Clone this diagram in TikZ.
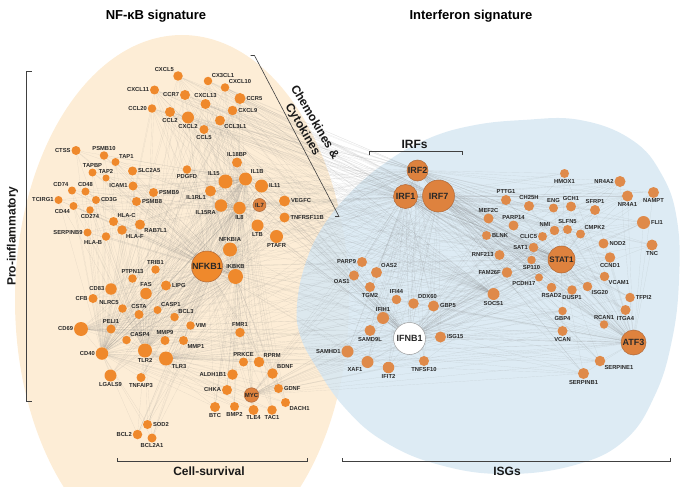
\documentclass[tikz,border=0pt]{standalone}
\usepackage{fontspec}
\setmainfont{Liberation Sans}
\usepackage{xcolor}
\usepackage{tikz}
\pgfdeclarelayer{fondo}
\pgfdeclarelayer{red}
\pgfsetlayers{fondo,red,main}

\definecolor{naranja}{RGB}{239,137,44}
\definecolor{naranjab}{RGB}{223,138,74}
\definecolor{nucleo}{RGB}{222,130,62}
\definecolor{borde}{RGB}{176,104,56}
\definecolor{durazno}{RGB}{253,237,214}
\definecolor{celeste}{RGB}{216,232,242}
\definecolor{texto}{RGB}{40,40,40}

% listas de genes
\newcommand\genesizq{CXCL5,CX3CL1,CXCL10,CXCL11,CCR7,CXCL13,CCR5,CCL20,CCL2,CXCL2,CXCL9,CCL3L1,CCL5,CTSS,PSMB10,TAP1,TAPBP,TAP2,SLC2A5,PDGFD,IL18BP,IL15,IL1B,IL11,CD74,CD48,ICAM1,TCIRG1,CD44,CD3G,CD274,HLA-C,HLA-F,SERPINB9,HLA-B,PSMB9,PSMB8,RAB7L1,IL1RL1,IL15RA,IL8,IL7,VEGFC,TNFRSF11B,LTB,PTAFR,NFKBIA,IKBKB,TRIB1,PTPN13,FAS,LIPG,CD83,CFB,NLRC5,CSTA,CASP1,BCL3,PELI1,CD69,VIM,FMR1,CASP4,MMP9,MMP1,CD40,TLR2,TLR3,LGALS9,TNFAIP3,PRKCE,RPRM,BDNF,ALDH1B1,CHKA,MYC,GDNF,DACH1,BTC,BMP2,TLE4,TAC1,SOD2,BCL2,BCL2A1}
\newcommand\genesder{IRF2,IRF1,IRF7,PARP9,OAS2,OAS1,TGM2,IFI44,DDX60,GBP5,IFIH1,SAMD9L,IFNB1,ISG15,SAMHD1,XAF1,IFIT2,TNFSF10,PTTG1,MEF2C,PARP14,BLNK,RNF213,FAM26F,PCDH17,SP110,SAT1,CLIC5,NMI,SLFN5,ENG,GCH1,CH25H,HMOX1,STAT1,CMPK2,SFRP1,NR4A2,NR4A1,NAMPT,FLI1,NOD2,TNC,CCND1,VCAM1,ISG20,DUSP1,RSAD2,SOCS1,TFPI2,GBP4,ITGA4,RCAN1,VCAN,ATF3,SERPINE1,SERPINB1}
\newcommand\genesquim{CXCL5,CX3CL1,CXCL10,CXCL11,CCR7,CXCL13,CCR5,CCL20,CCL2,CXCL2,CXCL9,CCL3L1,CCL5,IL18BP,IL15,IL1B,IL11,IL7,VEGFC,TNFRSF11B,IL8,IL15RA,IL1RL1,PDGFD,LTB,PTAFR,NFKBIA}

\begin{document}
\begin{tikzpicture}[x=1pt, y=-1pt,
  g/.style={circle, fill=naranja, inner sep=0pt, minimum size=#1pt},
  gb/.style={circle, fill=naranjab, inner sep=0pt, minimum size=#1pt},
  hub/.style={circle, fill=nucleo, draw=borde, line width=0.5pt, inner sep=0pt,
    minimum size=#1pt, text=texto, font=\bfseries\fontsize{9}{9}\selectfont},
  lbl/.style={font=\bfseries\fontsize{5.8}{6}\selectfont, text=texto, inner sep=0.3pt},
  every label/.style={lbl}, label distance=0.3pt,
  link/.style={black!50, line width=0.15pt, opacity=0.22},
  corchete/.style={black!75, line width=0.6pt},
  seccion/.style={font=\bfseries\fontsize{12}{14}\selectfont, text=black!90}]
  \useasboundingbox (0,0) rectangle (683,487);

  % Elipses de fondo
  \begin{pgfonlayer}{fondo}
    \clip (0,0) rectangle (683,487);
    \fill[durazno] (182,300) ellipse [x radius=167, y radius=265];
    \fill[celeste, opacity=0.88] plot[smooth cycle, tension=0.7] coordinates {
      (297,305) (305,265) (322,228) (350,193) (385,163) (425,140) (470,126)
      (523,120) (580,120) (632,140) (662,175) (677,220) (679,280) (672,340)
      (655,395) (625,440) (575,465) (505,474) (440,465) (385,442) (345,408)
      (315,365) (300,335)};
  \end{pgfonlayer}

  % Titulos
  \node[font=\bfseries\fontsize{13}{13}\selectfont] (tnfkb) at (156,16) {NF-κB signature};
  \node[font=\bfseries\fontsize{13}{13}\selectfont] (tifn) at (471,16) {Interferon signature};

  % Corchetes
  \draw[corchete] (31.5,71) -- (26.5,71) -- (26.5,401.5) -- (31.5,401.5);
  \node[seccion, rotate=90] (proinf) at (12.5,236) {Pro-inflammatory};
  \draw[corchete] (250.5,55.5) -- (254.5,55.5) -- (339,216.5) -- (335,216.5);
  \node[seccion, rotate=-59.5, align=center] (quim) at (308.5,126) {Chemokines \&\\Cytokines};
  \draw[corchete] (369.5,155) -- (369.5,151.5) -- (462.5,151.5) -- (462.5,155);
  \node[seccion] (irfs) at (414.5,144) {IRFs};
  \draw[corchete] (117.5,458) -- (117.5,461.5) -- (307.5,461.5) -- (307.5,458);
  \node[seccion] (supv) at (209,471) {Cell-survival};
  \draw[corchete] (342.5,458) -- (342.5,461.5) -- (670,461.5) -- (670,458);
  \node[seccion] (isgs) at (507,471) {ISGs};

  % Firma NF-kB
  \node[g=9.5, label=above left:CXCL5] (CXCL5) at (178,76) {};
  \node[g=8.5, label=above right:CX3CL1] (CX3CL1) at (208,81) {};
  \node[g=8.5, label=above right:CXCL10] (CXCL10) at (225,87.5) {};
  \node[g=9, label=left:CXCL11] (CXCL11) at (154.5,90) {};
  \node[g=10, label=left:CCR7] (CCR7) at (185,95) {};
  \node[g=10, label=above:CXCL13] (CXCL13) at (205.5,104) {};
  \node[g=11, label=right:CCR5] (CCR5) at (240,98.5) {};
  \node[g=8.5, label=left:CCL20] (CCL20) at (152,108.5) {};
  \node[g=10, label=below:CCL2] (CCL2) at (170,112) {};
  \node[g=12, label=below:CXCL2] (CXCL2) at (188,117.5) {};
  \node[g=9.5, label=right:CXCL9] (CXCL9) at (232.5,110.5) {};
  \node[g=10, label=below right:CCL3L1] (CCL3L1) at (220,120.5) {};
  \node[g=9, label=below:CCL5] (CCL5) at (204,129.5) {};
  \node[g=9, label=left:CTSS] (CTSS) at (76,150.5) {};
  \node[g=8.5, label=above:PSMB10] (PSMB10) at (104,155.5) {};
  \node[g=8, label=above right:TAP1] (TAP1) at (115.5,162) {};
  \node[g=8, label=above:TAPBP] (TAPBP) at (92.5,172.5) {};
  \node[g=7, label=above:TAP2] (TAP2) at (106,178) {};
  \node[g=9, label=right:SLC2A5] (SLC2A5) at (132.5,171) {};
  \node[g=8.5, label=below:PDGFD] (PDGFD) at (187,169.5) {};
  \node[g=10, label=above:IL18BP] (IL18BP) at (237,162.5) {};
  \node[g=14, label=above left:IL15] (IL15) at (225.5,181.5) {};
  \node[g=13, label=above right:IL1B] (IL1B) at (245.5,179) {};
  \node[g=13, label=right:IL11] (IL11) at (261.5,186) {};
  \node[g=8, label=above left:CD74] (CD74) at (72,190.5) {};
  \node[g=8, label=above:CD48] (CD48) at (85.5,191.5) {};
  \node[g=9, label=left:ICAM1] (ICAM1) at (133,186) {};
  \node[g=8, label=left:TCIRG1] (TCIRG1) at (58.5,200) {};
  \node[g=8, label=below left:CD44] (CD44) at (73.5,206) {};
  \node[g=8, label=right:CD3G] (CD3G) at (96,200) {};
  \node[g=7.5, label=below:CD274] (CD274) at (90,210) {};
  \node[g=9, label=above right:HLA-C] (HLA-C) at (113.5,221.5) {};
  \node[g=9.5, label=below right:HLA-F] (HLA-F) at (122,230) {};
  \node[g=8, label=left:SERPINB9] (SERPINB9) at (87.5,232.5) {};
  \node[g=8.5, label=below left:HLA-B] (HLA-B) at (106,236.5) {};
  \node[g=9, label=right:PSMB9] (PSMB9) at (153.5,192.5) {};
  \node[g=9, label=right:PSMB8] (PSMB8) at (136.5,201.5) {};
  \node[g=10, label=below right:RAB7L1] (RAB7L1) at (140,224.5) {};
  \node[g=11, label=below left:IL1RL1] (IL1RL1) at (210.5,191) {};
  \node[g=12.5, label=below left:IL15RA] (IL15RA) at (221,205.5) {};
  \node[g=12.5, label=below:IL8] (IL8) at (239.5,208) {};
  \node[hub=13, font=\bfseries\fontsize{6}{6}\selectfont] (IL7) at (259.5,205) {IL7};
  \node[g=11, label=right:VEGFC] (VEGFC) at (284.5,201) {};
  \node[g=10, label=right:TNFRSF11B] (TNFRSF11B) at (284.5,217.5) {};
  \node[g=12, label=below:LTB] (LTB) at (257.5,225.5) {};
  \node[g=13, label=below:PTAFR] (PTAFR) at (276.5,236.5) {};
  \node[g=14, label=above:NFKBIA] (NFKBIA) at (230,249.5) {};
  \node[hub=31, fill=naranja] (NFKB1) at (207,266.5) {NFKB1};
  \node[g=15, label=above:IKBKB] (IKBKB) at (235.5,276.5) {};
  \node[g=8.5, label=above:TRIB1] (TRIB1) at (155.5,269.5) {};
  \node[g=8.5, label=above:PTPN13] (PTPN13) at (132.5,278.5) {};
  \node[g=11.5, label=above:FAS] (FAS) at (146,293.5) {};
  \node[g=10, label=right:LIPG] (LIPG) at (166,285.5) {};
  \node[g=11.5, label=left:CD83] (CD83) at (111,289) {};
  \node[g=9, label=left:CFB] (CFB) at (93,298.5) {};
  \node[g=8.5, label=above left:NLRC5] (NLRC5) at (122.5,308.5) {};
  \node[g=9, label=above:CSTA] (CSTA) at (139,314.5) {};
  \node[g=8, label=above right:CASP1] (CASP1) at (157.5,310) {};
  \node[g=8.5, label=above right:BCL3] (BCL3) at (174.5,317) {};
  \node[g=9, label=above:PELI1] (PELI1) at (111,329) {};
  \node[g=14, label=left:CD69] (CD69) at (81,329) {};
  \node[g=8.5, label=right:VIM] (VIM) at (190.5,325.5) {};
  \node[g=9.5, label=above:FMR1] (FMR1) at (240,332.5) {};
  \node[g=8.5, label=above right:CASP4] (CASP4) at (126.5,340) {};
  \node[g=9, label=above:MMP9] (MMP9) at (165,340.5) {};
  \node[g=9, label=below right:MMP1] (MMP1) at (183.5,340.5) {};
  \node[g=12.5, label=left:CD40] (CD40) at (102,353.5) {};
  \node[g=14, label=below:TLR2] (TLR2) at (145,350.5) {};
  \node[g=14, label=below right:TLR3] (TLR3) at (166,358.5) {};
  \node[g=12, label=below:LGALS9] (LGALS9) at (110.5,375.5) {};
  \node[g=9, label=below:TNFAIP3] (TNFAIP3) at (141,377.5) {};
  \node[g=9, label=above:PRKCE] (PRKCE) at (243.5,362) {};
  \node[g=10.5, label=above right:RPRM] (RPRM) at (259,362) {};
  \node[g=10.5, label=above right:BDNF] (BDNF) at (272.5,373.5) {};
  \node[g=10.5, label=left:ALDH1B1] (ALDH1B1) at (232.5,374.5) {};
  \node[g=10, label=left:CHKA] (CHKA) at (227,390) {};
  \node[hub=14.5, font=\bfseries\fontsize{6}{6}\selectfont] (MYC) at (251.5,395) {MYC};
  \node[g=9, label=right:GDNF] (GDNF) at (278.5,388.5) {};
  \node[g=9, label=below right:DACH1] (DACH1) at (285.5,402.5) {};
  \node[g=10, label=below:BTC] (BTC) at (215,407) {};
  \node[g=9, label=below:BMP2] (BMP2) at (234.5,406.5) {};
  \node[g=10, label=below:TLE4] (TLE4) at (253.5,410) {};
  \node[g=9.5, label=below:TAC1] (TAC1) at (272,410) {};
  \node[g=9, label=right:SOD2] (SOD2) at (147.5,424.5) {};
  \node[g=9.5, label=left:BCL2] (BCL2) at (137.5,434.5) {};
  \node[g=9, label=below:BCL2A1] (BCL2A1) at (152,438) {};

  % Firma interferon
  \node[hub=21] (IRF2) at (417.5,170.5) {IRF2};
  \node[hub=24] (IRF1) at (405.5,196.5) {IRF1};
  \node[hub=32] (IRF7) at (438.5,196) {IRF7};
  \node[gb=10, label=left:PARP9] (PARP9) at (362,262) {};
  \node[gb=11, label=above right:OAS2] (OAS2) at (376.5,272.5) {};
  \node[gb=10, label=below left:OAS1] (OAS1) at (354,275.5) {};
  \node[gb=10, label=below:TGM2] (TGM2) at (370,287) {};
  \node[gb=9.5, label=above:IFI44] (IFI44) at (396.5,299.5) {};
  \node[gb=10.5, label=above right:DDX60] (DDX60) at (413.5,303.5) {};
  \node[gb=11, label=right:GBP5] (GBP5) at (433.5,306) {};
  \node[gb=12, label=above:IFIH1] (IFIH1) at (383,318) {};
  \node[gb=11, label=below:SAMD9L] (SAMD9L) at (370,330.5) {};
  \node[hub=32, fill=white, draw=black!40] (IFNB1) at (409.5,338.5) {IFNB1};
  \node[gb=11, label=right:ISG15] (ISG15) at (440.5,337) {};
  \node[gb=12, label=left:SAMHD1] (SAMHD1) at (347.5,351.5) {};
  \node[gb=12, label=below left:XAF1] (XAF1) at (367.5,362) {};
  \node[gb=11.5, label=below:IFIT2] (IFIT2) at (388.5,367.5) {};
  \node[gb=10, label=below:TNFSF10] (TNFSF10) at (424,361) {};
  \node[gb=10, label=above:PTTG1] (PTTG1) at (506,200) {};
  \node[gb=10, label=above:MEF2C] (MEF2C) at (488.5,218.5) {};
  \node[gb=10, label=above:PARP14] (PARP14) at (513.5,225.5) {};
  \node[gb=9, label=right:BLNK] (BLNK) at (486.5,235.5) {};
  \node[gb=10, label=left:RNF213] (RNF213) at (499.5,255) {};
  \node[gb=10.5, label=left:FAM26F] (FAM26F) at (507,272.5) {};
  \node[gb=8, label=below left:PCDH17] (PCDH17) at (539,277.5) {};
  \node[gb=8.5, label=below:SP110] (SP110) at (531.5,260) {};
  \node[gb=9.5, label=left:SAT1] (SAT1) at (533.5,247.5) {};
  \node[gb=9, label=left:CLIC5] (CLIC5) at (542.5,236.5) {};
  \node[gb=9.5, label=above left:NMI] (NMI) at (554.5,230.5) {};
  \node[gb=9, label=above:SLFN5] (SLFN5) at (567.5,229.5) {};
  \node[gb=9, label=above:ENG] (ENG) at (553.5,208) {};
  \node[gb=10, label=above:GCH1] (GCH1) at (571,206.5) {};
  \node[gb=10, label=above:CH25H] (CH25H) at (529,206) {};
  \node[gb=9, label=below:HMOX1] (HMOX1) at (564.5,173.5) {};
  \node[hub=27, font=\bfseries\fontsize{8}{8}\selectfont] (STAT1) at (561.5,259.5) {STAT1};
  \node[gb=9, label=above right:CMPK2] (CMPK2) at (580.5,234) {};
  \node[gb=10, label=above:SFRP1] (SFRP1) at (595,210) {};
  \node[gb=11, label=left:NR4A2] (NR4A2) at (620,181.5) {};
  \node[gb=11, label=below:NR4A1] (NR4A1) at (627.5,196) {};
  \node[gb=11, label=below:NAMPT] (NAMPT) at (653.5,192.5) {};
  \node[gb=13, label=right:FLI1] (FLI1) at (643.5,222.5) {};
  \node[gb=10, label=right:NOD2] (NOD2) at (603.5,243.5) {};
  \node[gb=11, label=below:TNC] (TNC) at (652,245) {};
  \node[gb=10.5, label=below:CCND1] (CCND1) at (610,257.5) {};
  \node[gb=9.5, label=below right:VCAM1] (VCAM1) at (604.5,276.5) {};
  \node[gb=9.5, label=below right:ISG20] (ISG20) at (587.5,286.5) {};
  \node[gb=9.5, label=below:DUSP1] (DUSP1) at (572,290) {};
  \node[gb=9.5, label=below:RSAD2] (RSAD2) at (551.5,287.5) {};
  \node[gb=12, label=below:SOCS1] (SOCS1) at (493.5,294) {};
  \node[gb=9.5, label=right:TFPI2] (TFPI2) at (630,297.5) {};
  \node[gb=8.5, label=below:GBP4] (GBP4) at (562.5,311) {};
  \node[gb=10, label=below:ITGA4] (ITGA4) at (625.5,310) {};
  \node[gb=8.5, label=above:RCAN1] (RCAN1) at (604,324.5) {};
  \node[gb=10, label=below:VCAN] (VCAN) at (562.5,331) {};
  \node[hub=25] (ATF3) at (633.5,342.5) {ATF3};
  \node[gb=10.5, label=below right:SERPINE1] (SERPINE1) at (600,361) {};
  \node[gb=11, label=below:SERPINB1] (SERPINB1) at (583.5,373.5) {};

  % Interacciones
  \begin{pgfonlayer}{red}
    \foreach \a in {NFKB1,IL1B,TLR2,IKBKB,CD40,IL8}
      \foreach \b in \genesizq
        \draw[link] (\a) -- (\b);
    \foreach \a in {STAT1,IRF1,IRF7,IFNB1,IRF2,ATF3}
      \foreach \b in \genesder
        \draw[link] (\a) -- (\b);
    \foreach \a in {IRF1,IRF7,IRF2,STAT1,IFNB1,SOCS1}
      \foreach \b in \genesquim
        \draw[link] (\a) -- (\b);
    \foreach \a in {NFKB1,MYC,TLR3,CD69}
      \foreach \b in {IRF1,IRF7,IRF2,STAT1,IFNB1,ATF3,SOCS1,SAMHD1,XAF1,IFIT2,ISG15,SAMD9L,IFIH1,OAS1,PARP9,TNFSF10,CCND1,VCAM1,SERPINE1,SERPINB1,NR4A2,NR4A1,FLI1,VCAN,GBP4}
        \draw[link] (\a) -- (\b);
  \end{pgfonlayer}
\end{tikzpicture}
\end{document}
